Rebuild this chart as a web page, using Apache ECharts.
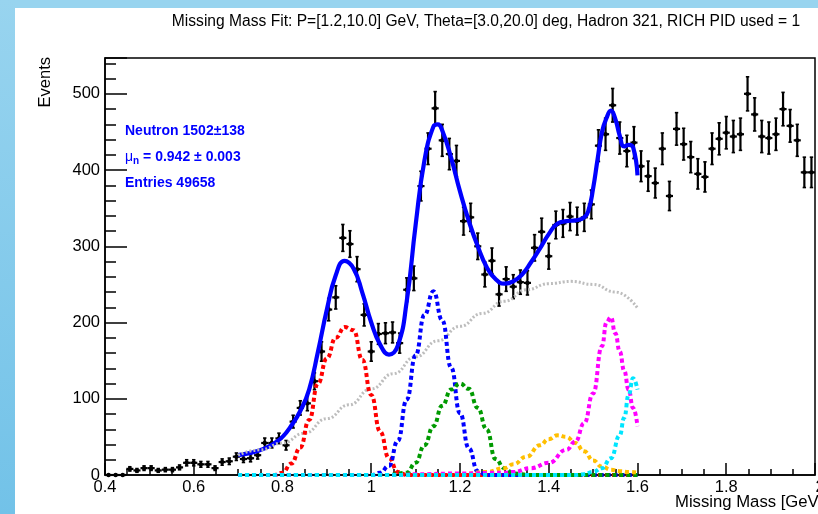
<!DOCTYPE html>
<html><head><meta charset="utf-8">
<script src="https://cdn.jsdelivr.net/npm/echarts@6/dist/echarts.min.js"></script>
<style>html,body{margin:0;padding:0;background:#fff}#c{width:818px;height:514px}</style>
</head><body><div id="c"></div>
<script>
// Histogram binning (100 bins from 0.4 to 2.0)
const binLow = 0.4, binWidth = 0.016;
const counts = [0,0,0,8,6,9,9,6,7,7,
 10,16,16,14,14,9,17,18,24,21,
 22,26,42,42,48,39,70,88,94,123,
 162,217,233,311,303,270,210,162,185,186,
 187,173,243,258,379,428,481,439,421,412,
 333,338,300,263,281,237,257,247,253,252,
 298,319,287,328,330,339,333,338,355,432,
 447,485,442,425,436,405,392,383,428,366,
 454,434,417,395,391,428,441,449,444,447,
 500,473,444,442,447,480,458,439,397,397];

const xTicks = ['0.4','0.6','0.8','1','1.2','1.4','1.6','1.8','2'];
const yTicks = ['0','100','200','300','400','500'];

const fitTotal = [[0.70,26],[0.72,28],[0.74,31],[0.76,35],[0.78,41],[0.80,50],[0.82,65],[0.84,84],[0.86,112],[0.88,162],[0.90,217],[0.92,262],[0.94,281],[0.96,271],[0.98,239],[1.00,200],[1.02,171],[1.04,158],[1.06,170],[1.08,228],[1.10,328],[1.12,413],[1.14,457],[1.15,460],[1.16,452],[1.18,416],[1.20,372],[1.22,333],[1.24,300],[1.26,273],[1.28,257],[1.30,251],[1.32,254],[1.34,263],[1.36,279],[1.38,297],[1.40,316],[1.42,330],[1.44,333],[1.46,334],[1.48,338],[1.49,348],[1.50,376],[1.51,414],[1.52,450],[1.53,468],[1.54,478],[1.55,467],[1.56,445],[1.57,431],[1.58,433],[1.59,430],[1.60,393]];
const fitBkg = [[0.70,26],[0.75,33],[0.80,42],[0.85,55],[0.90,74],[0.95,92],[1.00,113],[1.05,133],[1.10,155],[1.15,176],[1.20,195],[1.25,212],[1.30,228],[1.35,243],[1.40,251],[1.45,254],[1.50,250],[1.55,240],[1.60,219]];
const fitNeutron = [[0.70,0],[0.78,0],[0.80,3],[0.82,15],[0.84,36],[0.86,72],[0.88,120],[0.90,153],[0.92,180],[0.94,194],[0.96,190],[0.98,151],[1.00,105],[1.02,57],[1.04,22],[1.06,4],[1.08,0],[1.60,0]];
const fitPeak2 = [[0.70,0],[1.00,0],[1.02,3],[1.04,12],[1.06,45],[1.08,99],[1.10,157],[1.12,210],[1.14,241],[1.16,203],[1.18,141],[1.20,81],[1.22,35],[1.24,5],[1.26,0],[1.60,0]];
const fitPeak3 = [[0.70,0],[1.04,0],[1.08,3],[1.10,16],[1.12,39],[1.14,64],[1.16,91],[1.18,112],[1.20,120],[1.22,113],[1.24,88],[1.26,60],[1.28,21],[1.30,9],[1.32,2],[1.36,0],[1.60,0]];
const fitPeak4 = [[0.70,0],[1.10,0],[1.20,1],[1.26,4],[1.30,9],[1.32,14],[1.35,24],[1.38,39],[1.40,47],[1.42,52],[1.44,50],[1.46,42],[1.48,31],[1.50,19],[1.52,11],[1.54,7],[1.56,5],[1.58,4],[1.60,3]];
const fitPeak5 = [[0.70,0],[1.06,0],[1.10,1],[1.20,2],[1.30,3],[1.32,4],[1.36,9],[1.40,16],[1.44,33],[1.46,44],[1.48,68],[1.50,107],[1.52,169],[1.53,200],[1.54,207],[1.55,186],[1.56,162],[1.57,137],[1.58,112],[1.59,88],[1.60,64]];
const fitPeak6 = [[0.70,0],[1.46,0],[1.48,1],[1.50,4],[1.52,9],[1.54,22],[1.56,52],[1.57,75],[1.58,105],[1.59,127],[1.60,112]];

const histData = counts.map((c, i) => [binLow + binWidth * (i + 0.5), c, Math.sqrt(c)]);

const FONT = 'Liberation Sans, Arial, sans-serif';
const chart = echarts.init(document.getElementById('c'), null, {renderer: 'canvas'});

function curve(name, data, color, z, width, dash) {
  return {
    type: 'line', name, data, showSymbol: false, smooth: 0.5, smoothMonotone: 'x',
    clip: false, z, silent: true,
    lineStyle: {color, width: width || 4, type: dash || [4, 3]}
  };
}

const option = {
  backgroundColor: '#ffffff',
  animation: false,
  grid: {left: 105, top: 58, width: 716, height: 417, show: true, borderColor: '#000', borderWidth: 1.5, backgroundColor: '#fff'},
  xAxis: {
    type: 'value', min: 0.4, max: 2.0, interval: 0.2,
    axisLine: {show: true, lineStyle: {color: '#000', width: 1.5}},
    axisTick: {inside: true, length: 12, lineStyle: {color: '#000', width: 1.5}},
    minorTick: {show: true, splitNumber: 4, length: 6, lineStyle: {color: '#000', width: 1.5}},
    splitLine: {show: false},
    axisLabel: {fontFamily: FONT, fontSize: 16.5, color: '#000', margin: 4,
      formatter: v => { const i = Math.round((v - 0.4) / 0.2); return i < xTicks.length - 1 ? xTicks[i] : ''; }}
  },
  yAxis: [{
    type: 'value', min: 0, max: 547, interval: 100,
    axisLine: {show: true, lineStyle: {color: '#000', width: 1.5}},
    axisTick: {inside: true, length: 22, lineStyle: {color: '#000', width: 1.5}},
    splitLine: {show: false},
    axisLabel: {fontFamily: FONT, fontSize: 16.5, color: '#000', margin: 5,
      formatter: v => (v % 100 === 0 ? (yTicks[v / 100] || '') : '')}
  }, {
    type: 'value', min: 0, max: 547, interval: 20, position: 'left',
    axisLine: {show: false},
    axisTick: {inside: true, length: 11, lineStyle: {color: '#000', width: 1.5}},
    splitLine: {show: false},
    axisLabel: {show: false}
  }],
  graphic: [
    {type: 'rect', shape: {x: 0, y: 0, width: 818, height: 8}, style: {fill: '#98d4ef'}, z: 100},
    {type: 'rect', shape: {x: 0, y: 0, width: 15, height: 514},
      style: {fill: new echarts.graphic.LinearGradient(0, 0, 0, 1, [{offset: 0, color: '#98d4ef'}, {offset: 1, color: '#72c2e8'}])}, z: 100},
    {type: 'text', x: 486, y: 22, z: 100, style: {text: 'Missing Mass Fit: P=[1.2,10.0] GeV, Theta=[3.0,20.0] deg, Hadron 321, RICH PID used = 1',
      font: '15.6px ' + FONT, fill: '#000', align: 'center', verticalAlign: 'middle'}},
    {type: 'text', x: 45, y: 57, rotation: Math.PI / 2, z: 100, style: {text: 'Events', font: '16.5px ' + FONT, fill: '#000', align: 'right', verticalAlign: 'middle'}},
    {type: 'text', x: 675, y: 502, z: 100, style: {text: 'Missing Mass [GeV/c²]', font: '16.7px ' + FONT, fill: '#000', align: 'left', verticalAlign: 'middle'}},
    {type: 'text', x: 820, y: 487, z: 100, style: {text: xTicks[xTicks.length - 1], font: '16.5px ' + FONT, fill: '#000', align: 'center', verticalAlign: 'middle'}},
    {type: 'text', x: 125, y: 131, z: 100, style: {text: 'Neutron 1502±138', font: 'bold 14px ' + FONT, fill: '#0000ff', align: 'left', verticalAlign: 'middle'}},
    {type: 'text', x: 125, y: 157, z: 100, style: {
      text: '{m|μ}{s|n}{b| = 0.942 ± 0.003}',
      rich: {
        m: {font: '14px ' + FONT, fill: '#0000ff'},
        s: {font: 'bold 10px ' + FONT, fill: '#0000ff', padding: [8, 0, 0, 0]},
        b: {font: 'bold 14px ' + FONT, fill: '#0000ff'}
      }, align: 'left', verticalAlign: 'middle'}},
    {type: 'text', x: 125, y: 183, z: 100, style: {text: 'Entries 49658', font: 'bold 14px ' + FONT, fill: '#0000ff', align: 'left', verticalAlign: 'middle'}}
  ],
  series: [
    {
      type: 'custom', name: 'data', data: histData, z: 2, silent: true, clip: false,
      renderItem: function (params, api) {
        const x = api.value(0), y = api.value(1), e = api.value(2);
        const c = api.coord([x, y]);
        const l = api.coord([x - binWidth / 2, y]);
        const r = api.coord([x + binWidth / 2, y]);
        const t = api.coord([x, y + e]);
        const b = api.coord([x, Math.max(0, y - e)]);
        const st = {stroke: '#000', lineWidth: 2.2};
        const ch = [
          {type: 'line', shape: {x1: l[0], y1: c[1], x2: r[0], y2: c[1]}, style: st},
          {type: 'circle', shape: {cx: c[0], cy: c[1], r: 2.2}, style: {fill: '#000'}}
        ];
        if (e > 0) {
          ch.push({type: 'line', shape: {x1: c[0], y1: t[1], x2: c[0], y2: b[1]}, style: st});
          ch.push({type: 'line', shape: {x1: c[0] - 1.7, y1: t[1], x2: c[0] + 1.7, y2: t[1]}, style: {stroke: '#000', lineWidth: 1.6}});
          ch.push({type: 'line', shape: {x1: c[0] - 1.7, y1: b[1], x2: c[0] + 1.7, y2: b[1]}, style: {stroke: '#000', lineWidth: 1.6}});
        }
        return {type: 'group', children: ch};
      }
    },
    {type: 'line', name: 'total', data: fitTotal, showSymbol: false, smooth: 0.5, clip: false, z: 3, silent: true,
      lineStyle: {color: '#0000ff', width: 4.2}},
    curve('background', fitBkg, '#bdbdbd', 4, 3, [2, 2]),
    curve('neutron', fitNeutron, '#ff0000', 5),
    curve('peak2', fitPeak2, '#0000ff', 5),
    curve('peak3', fitPeak3, '#009a00', 5),
    curve('peak4', fitPeak4, '#ffbf00', 5),
    curve('peak5', fitPeak5, '#ff00ff', 5),
    curve('peak6', fitPeak6, '#00e5ff', 6)
  ]
};
chart.setOption(option);
</script></body></html>
